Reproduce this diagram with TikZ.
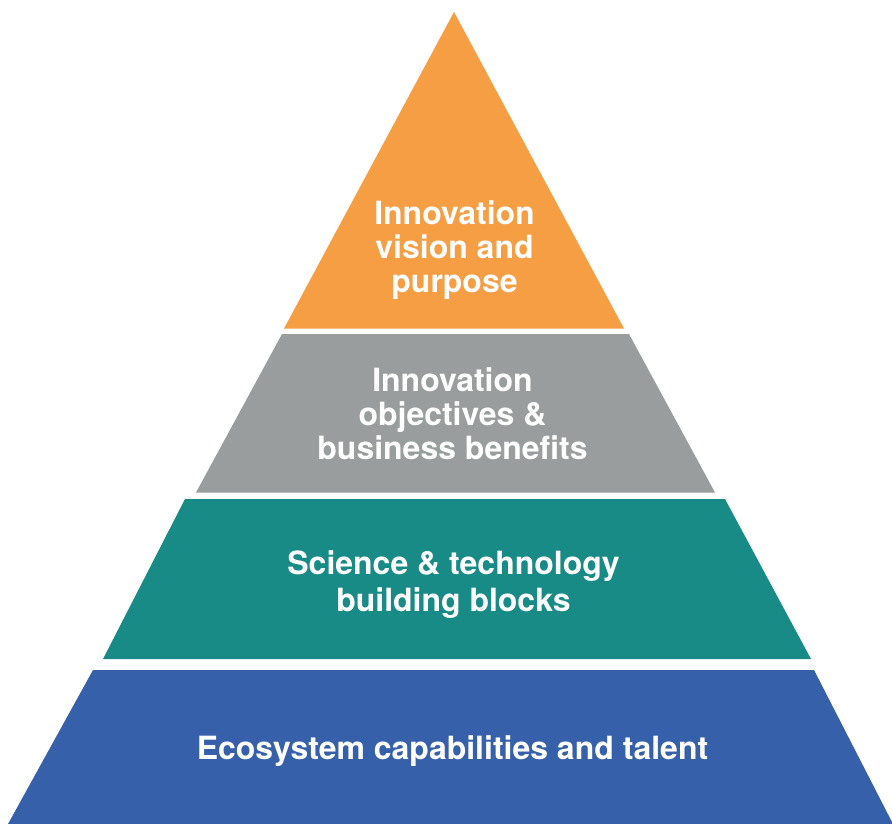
\documentclass[tikz,border=0pt]{standalone}
\usepackage{fontspec}
\setmainfont{TeX Gyre Heros}
\definecolor{pyrorange}{HTML}{F59E43}
\definecolor{pyrgray}{HTML}{9A9D9D}
\definecolor{pyrteal}{HTML}{188B86}
\definecolor{pyrblue}{HTML}{3660AA}
\begin{document}
\begin{tikzpicture}[x=1bp,y=-1bp,
  label/.style={text=white,align=center,inner sep=0pt,
    font=\bfseries\fontsize{32.1}{34}\selectfont},
  labelwide/.style={label,font=\bfseries\fontsize{32.1}{37}\selectfont}]
\useasboundingbox (0,0) rectangle (892,824);
\fill[pyrorange] (454,12) -- (624,328.5) -- (284,328.5) -- cycle;
\fill[pyrgray] (282,334) -- (629,334) -- (715,492.5) -- (196,492.5) -- cycle;
\fill[pyrteal] (185,499) -- (725,499) -- (811,659) -- (103,659) -- cycle;
\fill[pyrblue] (93,670) -- (814,670) -- (893,824) -- (8,824) -- cycle;
\node[label] (top) at (454.5,250) {Innovation\\vision and\\purpose};
\node[label] (mid) at (452.5,414) {Innovation\\objectives \&\\business benefits};
\node[labelwide] (sci) at (453.5,584.5) {Science \& technology\\building blocks};
\node[label] (eco) at (452.5,751) {Ecosystem capabilities and talent};
\end{tikzpicture}
\end{document}
